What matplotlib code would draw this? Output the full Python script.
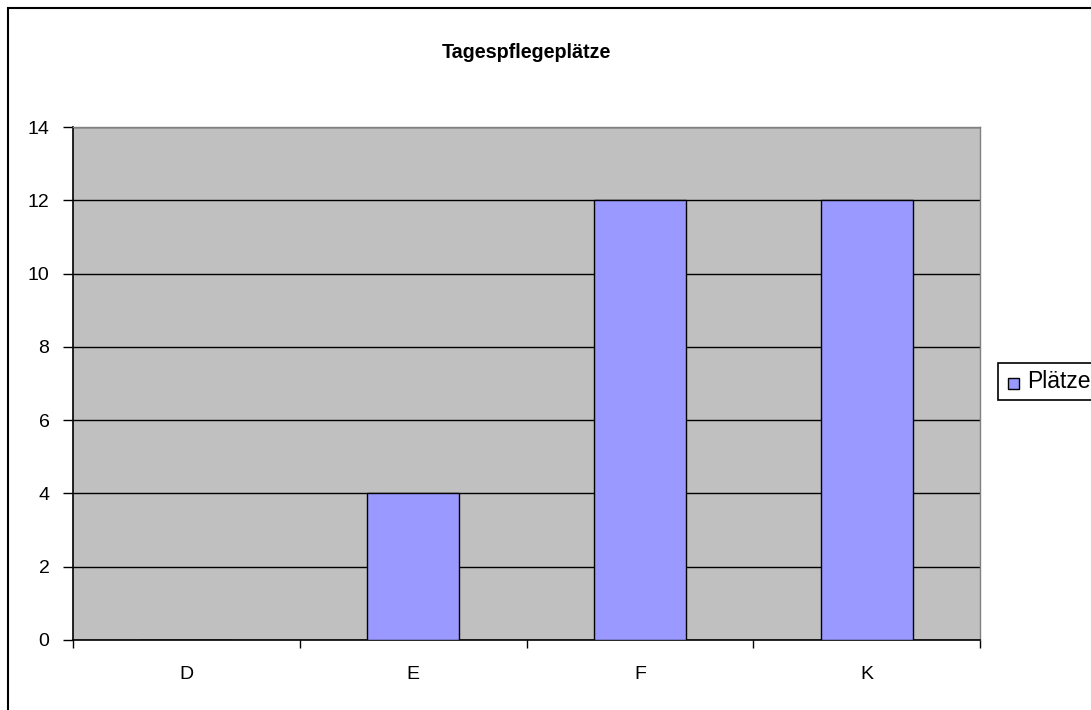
import numpy as np
import matplotlib.pyplot as plt
from matplotlib.patches import Rectangle

plt.rcParams['font.family'] = ['Liberation Sans', 'DejaVu Sans']

# data
kategorien = ['D', 'E', 'F', 'K']
plaetze = [0, 4, 12, 12]
titel = 'Tagespflegeplätze'
serie = 'Plätze'

W, H = 1091, 710
fig = plt.figure(figsize=(W / 100, H / 100), dpi=100)

# outer chart frame (cut off at right and bottom like the original)
fig.patches.append(Rectangle((8 / W, -0.05), 1.1, 1 - 8 / H + 0.05,
                             transform=fig.transFigure, fill=False,
                             edgecolor='black', linewidth=1.5))

ax = fig.add_axes([73 / W, 1 - 640 / H, (980 - 73) / W, (640 - 127) / H])
ax.set_facecolor('#c0c0c0')

x = np.arange(len(kategorien))
ax.bar(x, plaetze, width=0.405, color='#9999ff', edgecolor='black',
       linewidth=1.0, zorder=3)

ax.set_xlim(-0.5, len(kategorien) - 0.5)
ax.set_ylim(0, 14)
ax.set_yticks(np.arange(0, 15, 2))
ax.yaxis.grid(True, color='black', linewidth=1.0, zorder=1)
ax.set_axisbelow(True)

# category boundaries as ticks, labels in the middle
ax.set_xticks(np.arange(-0.5, len(kategorien), 1.0))
ax.set_xticklabels([])
ax.set_xticks(x, minor=True)
ax.set_xticklabels(kategorien, minor=True)
ax.tick_params(axis='x', which='minor', length=0, pad=19, labelsize=14)
ax.tick_params(axis='x', which='major', direction='out', length=6, width=1)
ax.tick_params(axis='y', direction='out', length=7, width=1, labelsize=14, pad=10)

for s in ['left', 'bottom']:
    ax.spines[s].set_color('black')
    ax.spines[s].set_linewidth(1.2)
for s in ['top', 'right']:
    ax.spines[s].set_color('#808080')
    ax.spines[s].set_linewidth(1.0)

fig.text(526 / W, 1 - 53 / H, titel, ha='center', va='center',
         fontsize=14.2, fontweight='bold')

# legend box, running past the right edge
fig.patches.append(Rectangle((998 / W, 1 - 400 / H), 0.2, 37 / H,
                             transform=fig.transFigure, facecolor='white',
                             edgecolor='black', linewidth=1.2))
fig.patches.append(Rectangle((1008 / W, 1 - 389 / H), 11 / W, 11 / H,
                             transform=fig.transFigure, facecolor='#9999ff',
                             edgecolor='black', linewidth=1.0))
fig.text(1027 / W, 1 - 382 / H, serie, ha='left', va='center', fontsize=16.5)

fig.savefig('out.png', dpi=100)
